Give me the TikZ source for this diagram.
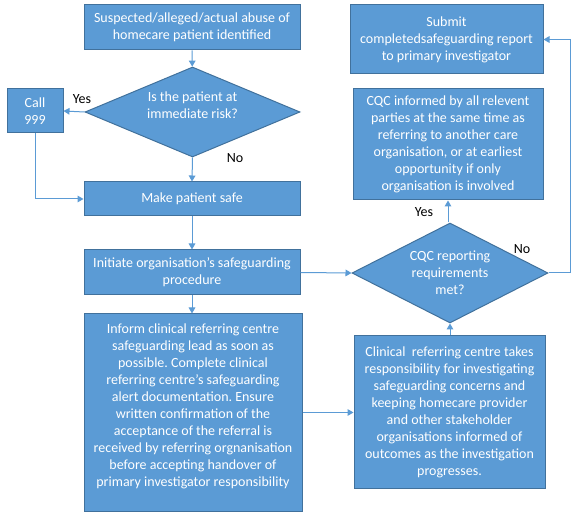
\documentclass[tikz,border=0pt]{standalone}
\usepackage{fontspec}
\setmainfont{Carlito}
\usetikzlibrary{shapes.geometric,arrows.meta}
\definecolor{boxfill}{HTML}{5B9BD5}
\definecolor{boxline}{HTML}{41719C}
\definecolor{arrowc}{HTML}{5B9BD5}
\frenchspacing
\tikzset{
  box/.style={rectangle,draw=boxline,fill=boxfill,line width=0.75pt,text=white,align=center,inner sep=0pt,font=\fontsize{10.5}{12.75}\selectfont},
  dia/.style={diamond,draw=boxline,fill=boxfill,line width=0.75pt,inner sep=0pt},
  txt/.style={text=white,align=center,inner sep=0pt,font=\fontsize{10.5}{12.75}\selectfont},
  lbl/.style={text=black,inner sep=0pt,font=\fontsize{10.5}{12.75}\selectfont},
  conn/.style={draw=arrowc,line width=0.75pt},
  arr/.style={conn,-{Triangle[width=5pt,length=4.5pt]}}
}
\begin{document}
\begin{tikzpicture}[x=0.75pt,y=-0.75pt]
\useasboundingbox (0,0) rectangle (575,516);
% boxes
\node[box,minimum width=216*0.75pt,minimum height=45*0.75pt] (start) at (192,27.5) {Suspected/alleged/actual abuse of\\homecare patient identified};
\node[dia,minimum width=215*0.75pt,minimum height=90*0.75pt] (risk) at (192.5,112) {};
\node[txt] (risktxt) at (192.5,105.5) {Is the patient at\\immediate risk?};
\node[box,minimum width=56*0.75pt,minimum height=44*0.75pt] (call) at (35,111) {Call\\999};
\node[box,minimum width=216*0.75pt,minimum height=34*0.75pt] (safe) at (192,199) {Make patient safe};
\node[box,minimum width=216*0.75pt,minimum height=45*0.75pt] (init) at (192,272.5) {Initiate organisation’s safeguarding\\procedure};
\node[box,minimum width=218*0.75pt,minimum height=198*0.75pt] (inform) at (193,413) {};
\node[txt] (informtxt) at (193,406) {Inform clinical referring centre\\safeguarding lead as soon as\\possible. Complete clinical\\referring centre’s safeguarding\\alert documentation. Ensure\\written confirmation of the\\acceptance of the referral is\\received by referring orgnanisation\\before accepting handover of\\primary investigator responsibility};
\node[box,minimum width=191*0.75pt,minimum height=153*0.75pt] (clin) at (449.5,412.5) {Clinical\ \ referring centre takes\\responsibility for investigating\\safeguarding concerns and\\keeping homecare provider\\and other stakeholder\\organisations informed of\\outcomes as the investigation\\progresses.};
\node[dia,minimum width=196*0.75pt,minimum height=100*0.75pt] (cqc) at (450,273) {};
\node[txt] (cqctxt) at (450,273) {CQC reporting\\requirements\\met?};
\node[box,minimum width=190*0.75pt,minimum height=111*0.75pt] (inf) at (448,144.5) {CQC informed by all relevent\\parties at the same time as\\referring to another care\\organisation, or at earliest\\opportunity if only\\organisation is involved};
\node[box,minimum width=193*0.75pt,minimum height=69*0.75pt] (submit) at (446.5,39.5) {Submit\\completedsafeguarding report\\to primary investigator};
% coordinates
\coordinate (c1) at (35,199);
\coordinate (n1) at (570,273);
\coordinate (n2) at (570,39.5);
% connectors
\draw[arr] (start) -- (risk);
\draw[arr] (risk.west) -- (call.east);
\draw[arr] (risk.south) -- (safe.north);
\draw[conn] (call.south) -- (c1);
\draw[arr] (c1) -- (safe.west);
\draw[arr] (safe) -- (init);
\draw[arr] (init) -- (init |- inform.north);
\draw[arr] (init.east) -- (cqc.west);
\draw[arr] (inform.east |- clin.west) -- (clin.west);
\draw[arr] (clin.north -| cqc.south) -- (cqc.south);
\draw[arr] (cqc.north -| inf.south) -- (inf.south);
\draw[conn] (cqc.east) -- (n1) -- (n2);
\draw[arr] (n2) -- (submit.east);
% labels
\node[lbl] (yes1) at (82,99) {Yes};
\node[lbl] (no1) at (235,158) {No};
\node[lbl] (yes2) at (424,212) {Yes};
\node[lbl] (no2) at (522,249) {No};
\end{tikzpicture}
\end{document}
